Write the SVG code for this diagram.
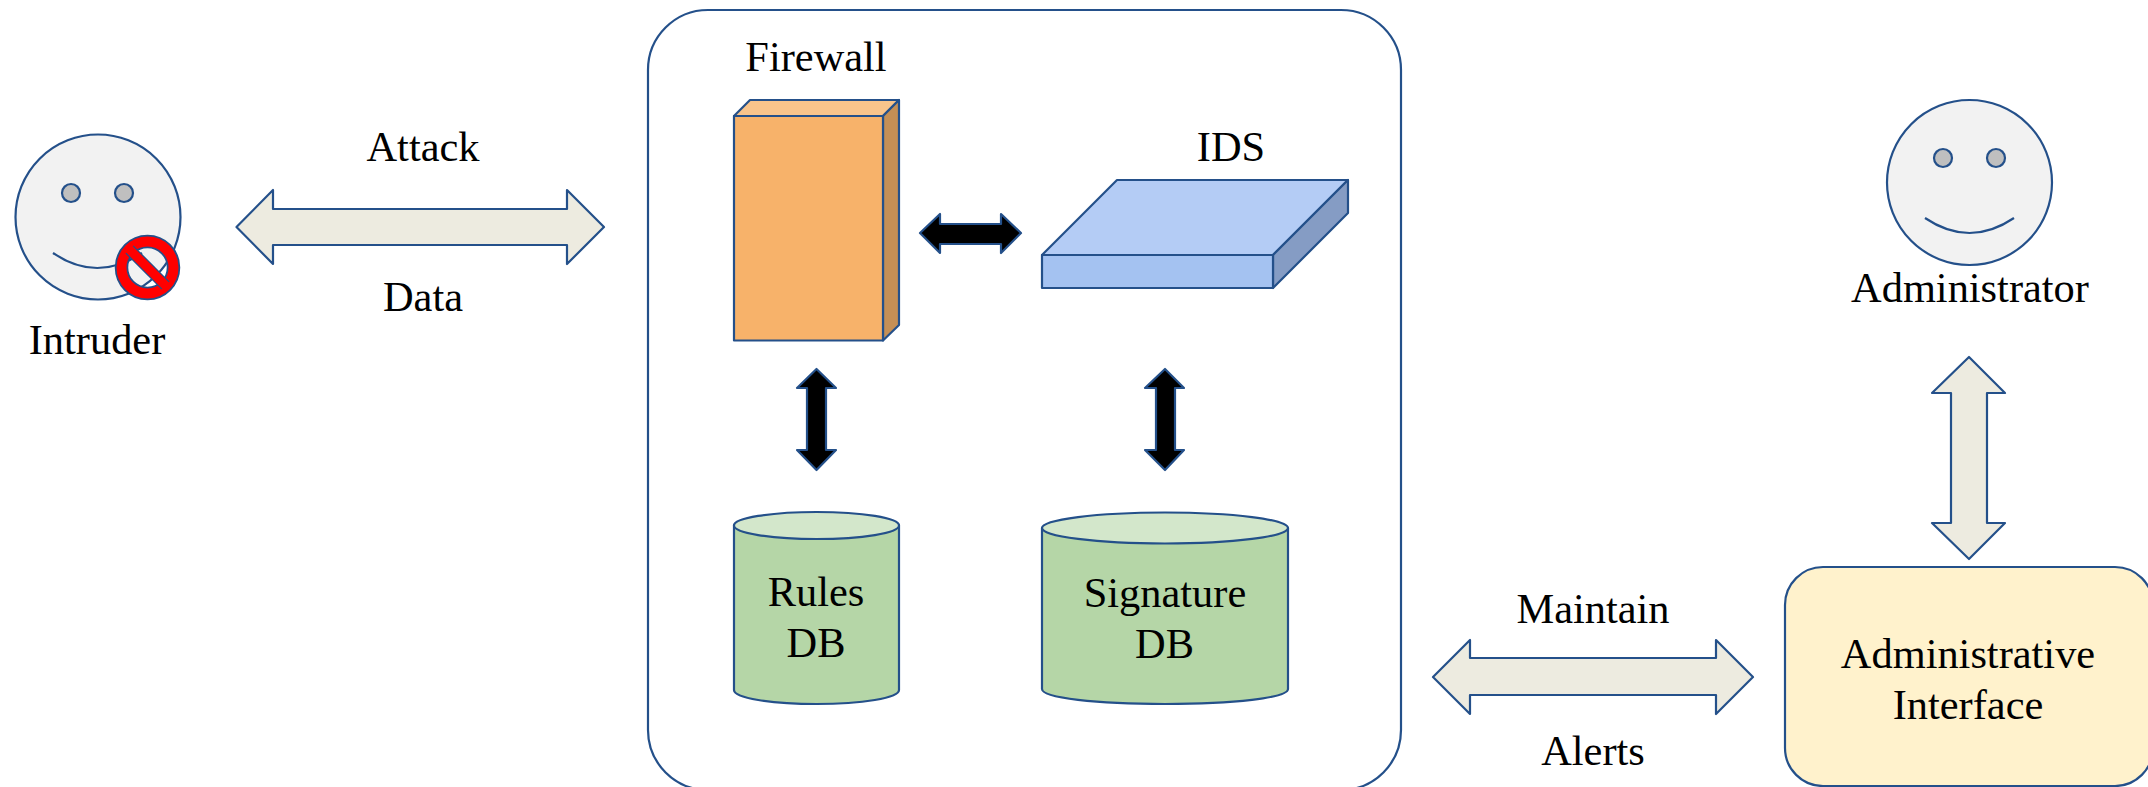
<svg xmlns="http://www.w3.org/2000/svg" width="2148" height="787" viewBox="0 0 2148 787">
<style>
text{font-family:"Liberation Serif","Times New Roman",serif;font-size:42.4px;fill:#000;text-anchor:middle}
.s{stroke:#24508a;stroke-width:2.200;stroke-linejoin:round}
.f{fill:#f2f2f2}.e{fill:#bfbfbf}.n{fill:none}
.l{fill:#edebe0}.d{fill:#000}
.c{fill:#b5d6a7}.ct{fill:#d3e7cb}
</style>
<rect width="2148" height="787" fill="#fff"/>
<g id="container"><rect class="s n" x="648" y="10" width="753" height="780" rx="60" ry="60"/></g>
<g id="intruder">
<circle class="s f" cx="98" cy="217" r="82.500"/>
<circle class="s e" cx="71" cy="193" r="9"/>
<circle class="s e" cx="124" cy="193" r="9"/>
<path class="s n" d="M53 253Q97 283 142 253"/>
<circle cx="147.500" cy="267.500" r="26" fill="none" stroke="#24508a" stroke-width="13.500"/>
<circle cx="147.500" cy="267.500" r="26" fill="none" stroke="#f00" stroke-width="10"/>
<path d="M129.500 249.500L165.500 285.500" stroke="#24508a" stroke-width="11.500" fill="none"/>
<path d="M128 248L167 287" stroke="#f00" stroke-width="9" fill="none"/>
<text x="97" y="354">Intruder</text>
</g>
<g id="firewall">
<path class="s" fill="#f9c48b" d="M734 116L750 100H899L883 116Z"/>
<path class="s" fill="#c58f55" d="M883 116L899 100V325L883 340.500Z"/>
<rect class="s" fill="#f7b26a" x="734" y="116" width="149" height="224.500"/>
<text x="816" y="71">Firewall</text>
</g>
<g id="ids">
<path class="s" fill="#b4ccf5" d="M1042 255L1117 180H1348L1273 255Z"/>
<path class="s" fill="#859cc4" d="M1273 255L1348 180V213L1273 288Z"/>
<rect class="s" fill="#a4c2f1" x="1042" y="255" width="231" height="33"/>
<text x="1231" y="161">IDS</text>
</g>
<g id="rules-db">
<path class="s c" d="M734 525V690C734 698 771 704 816.500 704S899 698 899 690V525Z"/>
<ellipse class="s ct" cx="816.500" cy="525.500" rx="82.500" ry="13.500"/>
<text x="816" y="606">Rules</text>
<text x="816" y="657">DB</text>
</g>
<g id="signature-db">
<path class="s c" d="M1042 528V689C1042 698 1097 704 1165 704S1288 698 1288 689V528Z"/>
<ellipse class="s ct" cx="1165" cy="528" rx="123" ry="15.500"/>
<text x="1165" y="607">Signature</text>
<text x="1164.500" y="658">DB</text>
</g>
<g id="admin-interface">
<rect class="s" fill="#fff2cc" x="1785" y="567" width="368" height="219" rx="38" ry="38"/>
<text x="1968" y="668">Administrative</text>
<text x="1968" y="719">Interface</text>
</g>
<g id="administrator">
<circle class="s f" cx="1969.500" cy="182.500" r="82.500"/>
<circle class="s e" cx="1943" cy="158" r="9"/>
<circle class="s e" cx="1996" cy="158" r="9"/>
<path class="s n" d="M1925 218Q1969.500 248 2014 218"/>
<text x="1970" y="302">Administrator</text>
</g>
<g id="connectors">
<path class="s l" d="M236.500 227L273 190V209H567V190L604 227L567 264V245H273V264Z"/>
<path class="s l" d="M1433 677L1470 640V658H1716V640L1753 677L1716 714V695H1470V714Z"/>
<path class="s l" d="M1969 357L2005 393H1987V523H2005L1969 559L1932 523H1951V393H1932Z"/>
<path class="s d" d="M920 233L940 214V224H1001V214L1021 233L1001 253V244H940V253Z"/>
<path class="s d" d="M816.500 369L836 388H826V450H836L816.500 470L797 450H807V388H797Z"/>
<path class="s d" d="M1165 369L1184 388H1175V450H1184L1165 470L1145 450H1156V388H1145Z"/>
</g>
<g id="labels">
<text x="423" y="161">Attack</text>
<text x="423" y="311">Data</text>
<text x="1593" y="623">Maintain</text>
<text x="1593" y="765">Alerts</text>
</g>
</svg>
